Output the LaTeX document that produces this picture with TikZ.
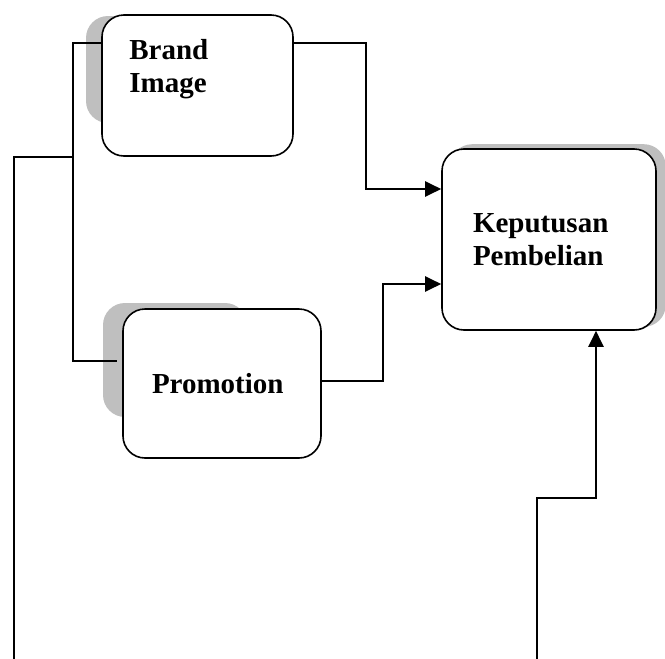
\documentclass[tikz,border=0pt]{standalone}
\usepackage{fontspec}
\setmainfont{Liberation Serif}
\usetikzlibrary{arrows.meta,backgrounds}

\begin{document}
\begin{tikzpicture}[
    x=1pt, y=-1pt,
    node distance=298pt,
    font=\fontsize{29}{33}\selectfont\bfseries,  % bold serif, like the scan
    % Node styles:
    box/.style={rectangle, draw, line width=1.6pt, rounded corners=22pt,
                fill=white, align=left},
    txtlbl/.style={anchor=north west, align=left, inner sep=0pt},
    shade/.style={fill=black!25, rounded corners=22pt},
    % Line styles:
    line/.style={-{Triangle[length=16pt,width=15pt]}, line width=2.2pt},
    feed/.style={line width=1.6pt},
]
\useasboundingbox (0,0) rectangle (665,659);

% --- NODES ---
\node[box, minimum width=191pt, minimum height=141pt,
      label={[txtlbl, xshift=28pt, yshift=-25pt]north west:Brand\\Image}]
      at (197.5,85.5) (brand) {};
\node[box, below of=brand, xshift=24.5pt, text width=140pt,
      minimum width=198pt, minimum height=149pt] (promo) {Promotion};
\node[box, right of=brand, xshift=53.5pt, yshift=-154pt, text width=152pt,
      minimum width=214pt, minimum height=181pt] (kep) {Keputusan\\Pembelian};

% --- SHADOWS (behind the boxes) ---
\begin{scope}[on background layer]
\fill[shade] (86,16) rectangle (240,123);
\fill[shade] (103,303) rectangle (247,417);
\fill[shade] ([shift={(9pt,4pt)}]kep.south west)
          rectangle ([shift={(9pt,4pt)}]kep.north east);
\end{scope}

% --- ARROWS ---
% Brand Image -> Keputusan
\draw[line] ([yshift=42.5pt]brand.east) -- ++(72pt,0) |- ([yshift=50.5pt]kep.west);

% Promotion -> Keputusan
\draw[line] ([yshift=2.5pt]promo.east) -- ++(61pt,0) |- ([yshift=-44.5pt]kep.west);

% from below, up into Keputusan
\coordinate (lowright) at (537,659);
\draw[line] (lowright) |- ([xshift=47pt, yshift=-167pt]kep.south)
         -- ([xshift=47pt]kep.south);

% left bracket joining both boxes
\coordinate (lowleft) at (14,659);
\coordinate (split) at (73,157);
\draw[feed] (lowleft) |- (split);
\draw[feed] ([yshift=42.5pt]brand.west) -| ([xshift=-49pt, yshift=22.5pt]promo.west)
         -- ([xshift=-5pt, yshift=22.5pt]promo.west);

\end{tikzpicture}
\end{document}
